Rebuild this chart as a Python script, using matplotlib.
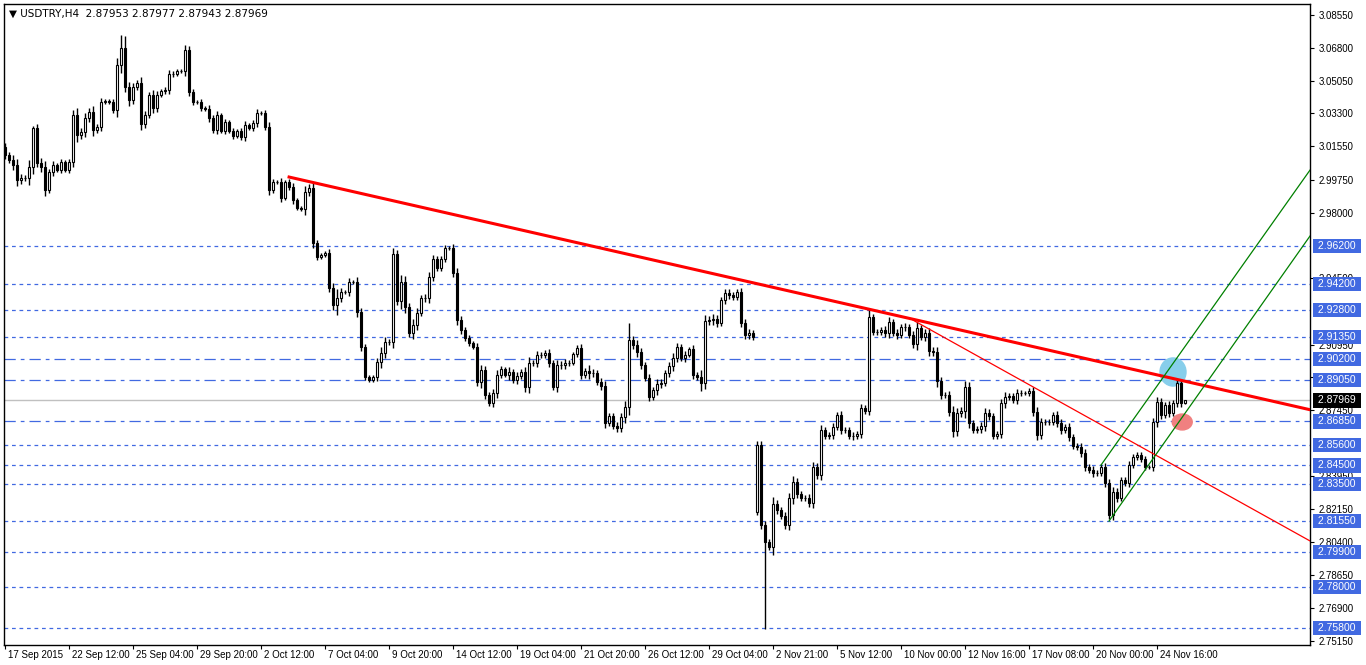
import numpy as np
import matplotlib.pyplot as plt
from matplotlib.patches import Ellipse

plt.rcParams['font.family'] = ['Liberation Sans', 'DejaVu Sans']

# closes, one per bar
closes = [
    3.0107, 3.0081, 3.0054, 2.9974, 2.9985, 2.9985, 3.0043, 3.0251, 3.0065, 3.0043,
    2.9920, 3.0017, 3.0054, 3.0027, 3.0070, 3.0027, 3.0070, 3.0321, 3.0214, 3.0230,
    3.0305, 3.0337, 3.0241, 3.0257, 3.0390, 3.0396, 3.0390, 3.0348, 3.0588, 3.0679,
    3.0470, 3.0401, 3.0470, 3.0492, 3.0273, 3.0321, 3.0428, 3.0358, 3.0428, 3.0449,
    3.0454, 3.0540, 3.0540, 3.0556, 3.0556, 3.0668, 3.0444, 3.0390, 3.0390, 3.0358,
    3.0353, 3.0305, 3.0241, 3.0321, 3.0235, 3.0284, 3.0235, 3.0209, 3.0235, 3.0203,
    3.0268, 3.0251, 3.0278, 3.0332, 3.0332, 3.0257, 2.9920, 2.9963, 2.9963, 2.9878,
    2.9963, 2.9936, 2.9867, 2.9824, 2.9819,
    2.9910, 2.9931, 2.9637, 2.9563, 2.9573, 2.9584, 2.9397, 2.9306, 2.9344, 2.9376,
    2.9376, 2.9429, 2.9429, 2.9269, 2.9082, 2.8922, 2.8906, 2.8922, 2.9002, 2.9050,
    2.9109, 2.9109, 2.9579, 2.9328, 2.9429, 2.9296, 2.9157, 2.9200, 2.9264, 2.9344,
    2.9344, 2.9456, 2.9552, 2.9504, 2.9552, 2.9611, 2.9611, 2.9477, 2.9226, 2.9173,
    2.9130, 2.9103, 2.9082, 2.8895, 2.8959, 2.8826, 2.8783, 2.8836, 2.8933, 2.8965,
    2.8933, 2.8949, 2.8906, 2.8927, 2.8949, 2.8868, 2.8997, 2.8997, 2.9039, 2.9039,
    2.9050, 2.8997, 2.8868, 2.8986, 2.8986, 2.8997, 2.8997, 2.9045, 2.9077, 2.8933,
    2.8954, 2.8943, 2.8943, 2.8895, 2.8874, 2.8676, 2.8714, 2.8660, 2.8649, 2.8708,
    2.8762, 2.9119, 2.9093, 2.9055, 2.8986, 2.8917, 2.8815, 2.8852, 2.8884, 2.8890,
    2.8943, 2.8981, 2.9023, 2.9082, 2.9023, 2.9039, 2.9071, 2.8933, 2.8922, 2.8890,
    2.9221, 2.9226, 2.9232, 2.9210, 2.9333, 2.9370, 2.9360, 2.9349, 2.9376, 2.9210,
    2.9146, 2.9157, 2.9135,
    2.8559, 2.8132, 2.8041, 2.8014, 2.8244, 2.8212, 2.8180, 2.8132, 2.8276, 2.8361,
    2.8297, 2.8276, 2.8276, 2.8249, 2.8441, 2.8399, 2.8639, 2.8607, 2.8612, 2.8655,
    2.8719, 2.8639, 2.8639, 2.8607, 2.8607, 2.8617, 2.8756, 2.8740, 2.9242, 2.9162,
    2.9162, 2.9173, 2.9157, 2.9216, 2.9157, 2.9146, 2.9189, 2.9189, 2.9146, 2.9098,
    2.9184, 2.9135, 2.9157, 2.9061, 2.9055, 2.8900, 2.8826, 2.8826, 2.8735, 2.8633,
    2.8730, 2.8740, 2.8868, 2.8676, 2.8639, 2.8644, 2.8660, 2.8730, 2.8714, 2.8607,
    2.8617, 2.8783,
    2.8815, 2.8820, 2.8799, 2.8836, 2.8836, 2.8836, 2.8847, 2.8735, 2.8612, 2.8682,
    2.8682, 2.8682, 2.8719, 2.8676, 2.8639, 2.8655, 2.8602, 2.8553, 2.8548, 2.8516,
    2.8441, 2.8425, 2.8409, 2.8409, 2.8441, 2.8356, 2.8185, 2.8308, 2.8276, 2.8372,
    2.8356, 2.8452, 2.8495, 2.8505, 2.8484, 2.8441, 2.8441, 2.8682, 2.8788, 2.8719,
    2.8772, 2.8730, 2.8783, 2.8890, 2.8783, 2.8797,
]

# wick sizes in pips
wicks = [
    20, 15, 25, 30, 20, 15, 40, 35, 20, 25, 30, 15, 20, 10, 15, 10, 15, 25, 35, 20,
    25, 20, 30, 15, 20, 10, 10, 15, 40, 45, 25, 30, 20, 15, 30, 20, 15, 25, 20, 10,
    15, 20, 15, 10, 10, 25, 20, 15, 10, 15, 10, 20, 15, 20, 10, 15, 10, 15, 10, 15,
    20, 10, 15, 20, 10, 15, 25, 15, 10, 20, 10, 15, 20, 10, 10,
    30, 20, 25, 15, 10, 10, 20, 25, 50, 20, 10, 20, 10, 25, 20, 15, 10, 10, 20, 30,
    25, 15, 30, 20, 40, 30, 20, 30, 25, 15, 20, 25, 20, 15, 15, 15, 10, 20, 25, 20,
    15, 15, 10, 20, 30, 20, 15, 20, 25, 15,
    10, 25, 15, 20, 15, 25, 30, 15, 20, 15, 15, 20, 15, 25, 20, 20, 15, 10, 15, 20,
    15, 30, 20, 15, 20, 25, 15, 15, 20, 20, 30, 40, 20, 25, 20, 15, 20, 15, 25, 20,
    15, 20, 25, 20, 15, 20, 10, 20, 15, 40, 30, 20, 25, 20, 15, 20, 20, 15, 15, 20,
    20, 20, 15,
    15, 20, 20, 15, 40, 20, 15, 20, 25, 30, 20, 15, 15, 20, 25, 20, 25, 15, 15, 20,
    15, 20, 15, 15, 20, 15, 20, 15, 20, 15, 15, 15, 20, 25, 15, 20, 15, 20, 15, 20,
    30, 15, 20, 25, 20, 30, 20, 15, 20, 30, 25, 20, 35, 25, 15, 15, 20, 25, 20, 15,
    15, 20,
    25, 15, 15, 20, 15, 10, 15, 20, 25, 20, 15, 15, 15, 20, 20, 15, 20, 15, 15, 20,
    20, 15, 20, 15, 15, 20, 20, 25, 20, 15, 15, 20, 15, 15, 15, 15, 10, 20, 25, 20,
    15, 20, 15, 20, 20, 5,
]

gap_opens = {188: 2.8201}
special_high = {29: 3.0750, 30: 3.0745, 7: 3.0265, 188: 2.8580, 216: 2.9285, 156: 2.9210}
special_low = {190: 2.7575}

levels_dash = [2.9620, 2.9420, 2.9280, 2.9135, 2.8560, 2.8450, 2.8350, 2.8155, 2.7990, 2.7800, 2.7580]
levels_dashdot = [2.9020, 2.8905, 2.8685]
last_price = 2.87969

axis_ticks = [3.0855, 3.0680, 3.0505, 3.0330, 3.0155, 2.9975, 2.9800, 2.9450,
              2.9095, 2.8920, 2.8745, 2.8395, 2.8215, 2.8040, 2.7865, 2.7690, 2.7515]

date_labels = ['17 Sep 2015', '22 Sep 12:00', '25 Sep 04:00', '29 Sep 20:00', '2 Oct 12:00',
               '7 Oct 04:00', '9 Oct 20:00', '14 Oct 12:00', '19 Oct 04:00', '21 Oct 20:00',
               '26 Oct 12:00', '29 Oct 04:00', '2 Nov 21:00', '5 Nov 12:00', '10 Nov 00:00',
               '12 Nov 16:00', '17 Nov 08:00', '20 Nov 00:00', '24 Nov 16:00']

# drawn objects: (bar index, price)
main_trend = [(71, 2.9990), (252, 2.9109)]
thin_trend = [(227, 2.9226), (326.25, 2.8047)]
chan_upper = [(274, 2.8452), (326.25, 3.0027)]
chan_lower = [(276, 2.8153), (326.25, 2.9675)]

n = len(closes)
closes = np.array(closes)
opens = np.concatenate([[3.0150], closes[:-1]])
for k, v in gap_opens.items():
    opens[k] = v
w = np.array(wicks[:n] + [15] * max(0, n - len(wicks))) * 0.0001
highs = np.maximum(opens, closes) + w
lows = np.minimum(opens, closes) - w
for k, v in special_high.items():
    highs[k] = v
for k, v in special_low.items():
    lows[k] = v

fig = plt.figure(figsize=(13.66, 6.65), dpi=100)
ax = fig.add_axes([0.003, 0.030, 0.956, 0.964])
xmax = 326.25
ax.set_xlim(-0.25, xmax)
ax.set_ylim(2.7491, 3.0914)

blue = '#4169E1'
for lv in levels_dash:
    ax.axhline(lv, color=blue, lw=0.9, ls=(0, (3, 3)), zorder=1)
for lv in levels_dashdot:
    ax.axhline(lv, color=blue, lw=0.9, ls=(0, (9, 4, 3, 4)), zorder=1)
ax.axhline(last_price, color='#C0C0C0', lw=1, zorder=1)

ax.add_patch(Ellipse((292, 2.8949), 6.5, 0.0150, color='#87CEEB', zorder=2))
ax.add_patch(Ellipse((294.3, 2.8682), 5, 0.0085, color='#F08080', zorder=2))

x = np.arange(n)
ax.vlines(x, lows, highs, color='black', lw=1, zorder=3)
up = closes >= opens
ax.bar(x, closes - opens, bottom=opens, width=0.55,
       color=np.where(up, 'white', 'black'), edgecolor='black', lw=0.8, zorder=4)


def ray(pts, color, lw):
    (x0, y0), (x1, y1) = pts
    s = (y1 - y0) / (x1 - x0)
    ax.plot([x0, xmax], [y0, y0 + s * (xmax - x0)], color=color, lw=lw, zorder=5)


ray(main_trend, 'red', 2.2)
ray(thin_trend, 'red', 0.9)
ray(chan_upper, 'green', 0.9)
ray(chan_lower, 'green', 0.9)

for s in ax.spines.values():
    s.set_linewidth(1)
ax.yaxis.tick_right()
ax.set_yticks(axis_ticks)
ax.set_yticklabels([f'{t:.5f}' for t in axis_ticks], fontsize=7)
ax.tick_params(axis='y', length=3, pad=3)
ticks_x = [16 * i for i in range(len(date_labels))]
ax.set_xticks(ticks_x)
ax.set_xticklabels([])
ax.tick_params(axis='x', length=3)
for tx, lab in zip(ticks_x, date_labels):
    ax.text(tx + 0.8, -0.008, lab, transform=ax.get_xaxis_transform(),
            ha='left', va='top', fontsize=7)

for lv in levels_dash + levels_dashdot:
    ax.text(1.004, lv, f' {lv:.5f} ', transform=ax.get_yaxis_transform(), ha='left', va='center',
            fontsize=7.5, color='white', zorder=10, clip_on=False,
            bbox=dict(boxstyle='square,pad=0.2', fc=blue, ec='none'))
ax.text(1.004, last_price, f' {last_price:.5f} ', transform=ax.get_yaxis_transform(), ha='left',
        va='center', fontsize=7.5, color='white', zorder=11, clip_on=False,
        bbox=dict(boxstyle='square,pad=0.2', fc='black', ec='none'))

ax.text(0.004, 0.992, '\u25bc USDTRY,H4  2.87953 2.87977 2.87943 2.87969',
        transform=ax.transAxes, ha='left', va='top', fontsize=7.5,
        family=['DejaVu Sans'])

fig.savefig('out.png', dpi=100)
